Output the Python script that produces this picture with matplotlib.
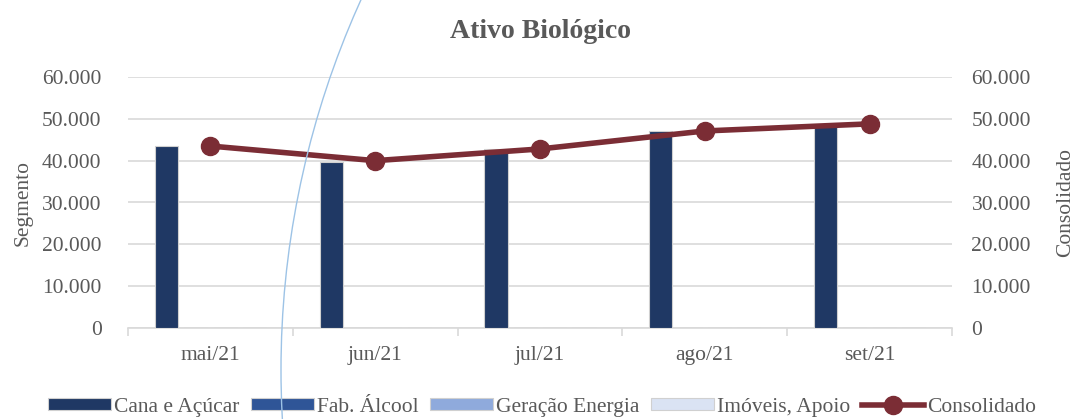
import matplotlib
matplotlib.use("Agg")
import matplotlib.pyplot as plt
from matplotlib.patches import Ellipse
from matplotlib.ticker import FuncFormatter, FixedLocator
import numpy as np

plt.rcParams['font.family'] = ['Liberation Serif', 'DejaVu Serif']

# data
meses = ['mai/21', 'jun/21', 'jul/21', 'ago/21', 'set/21']
cana_acucar = [43500, 39800, 42700, 47000, 48500]
fab_alcool = [0, 0, 0, 0, 0]
geracao_energia = [0, 0, 0, 0, 0]
imoveis_apoio = [0, 0, 0, 0, 0]
consolidado = [43500, 40000, 42800, 47100, 48800]

segmentos = ['Cana e Açúcar', 'Fab. Álcool', 'Geração Energia', 'Imóveis, Apoio']
cores = ['#1F3864', '#2F5597', '#8FAADC', '#DAE3F3']
cor_linha = '#7B2D35'
cinza = '#595959'

W, H = 1074, 419
fig = plt.figure(figsize=(W / 100, H / 100), dpi=100)
ax = fig.add_axes([128 / W, 1 - 328 / H, (952 - 128) / W, (328 - 77) / H])
ax2 = ax.twinx()

x = np.arange(len(meses))
passo = 0.178
larg = 0.14
series = [cana_acucar, fab_alcool, geracao_energia, imoveis_apoio]
for i, (nome, vals, c) in enumerate(zip(segmentos, series, cores)):
    ax.bar(x + (i - 1.5) * passo, vals, width=larg, color=c, label=nome,
           edgecolor='#D0D0D0', linewidth=0.8, zorder=3)

ax2.plot(x, consolidado, color=cor_linha, lw=4, marker='o', ms=13,
         label='Consolidado', zorder=4)

fmt = FuncFormatter(lambda v, p: f"{int(v):,}".replace(',', '.'))
for a in (ax, ax2):
    a.set_ylim(0, 60000)
    a.set_yticks(np.arange(0, 60001, 10000))
    a.yaxis.set_major_formatter(fmt)
    a.tick_params(axis='y', length=0, labelsize=15.5, labelcolor=cinza)
    for s in a.spines.values():
        s.set_visible(False)
ax.tick_params(axis='y', pad=19)
ax2.tick_params(axis='y', pad=14)
ax.set_xlim(-0.5, len(meses) - 0.5)
ax.spines['bottom'].set_visible(True)
ax.spines['bottom'].set_color('#D9D9D9')
ax.spines['bottom'].set_linewidth(1.2)
ax.yaxis.grid(True, color='#D9D9D9', lw=1.2, zorder=0)
ax.set_axisbelow(True)
ax.set_xticks(x)
ax.set_xticklabels(meses)
ax.tick_params(axis='x', length=0, labelsize=15.5, labelcolor=cinza, pad=13)
ax.xaxis.set_minor_locator(FixedLocator(np.arange(-0.5, len(meses), 1)))
ax.tick_params(axis='x', which='minor', length=6, color='#D9D9D9', width=1.2)

ax.set_ylabel('Segmento', fontsize=15.5, color=cinza, labelpad=7)
ax2.set_ylabel('Consolidado', fontsize=15.5, color=cinza, labelpad=18)
ax.set_title('Ativo Biológico', fontsize=20, fontweight='bold',
             color=cinza, pad=28)

h1, l1 = ax.get_legend_handles_labels()
h2, l2 = ax2.get_legend_handles_labels()
fig.legend(h1 + h2, l1 + l2, loc='center', bbox_to_anchor=(0.505, 0.028), ncol=5,
           frameon=False, fontsize=15.5, labelcolor=cinza, handlelength=2.9,
           handleheight=0.5, handletextpad=0.15, columnspacing=0.55)

# decorative arc crossing the slide
fig.add_artist(Ellipse((1178 / W, 1 - 370 / H), 2 * 897 / W, 2 * 897 / H,
                       transform=fig.transFigure, fill=False,
                       edgecolor='#9DC3E6', lw=1, zorder=10))

fig.savefig('out.png', dpi=100)
